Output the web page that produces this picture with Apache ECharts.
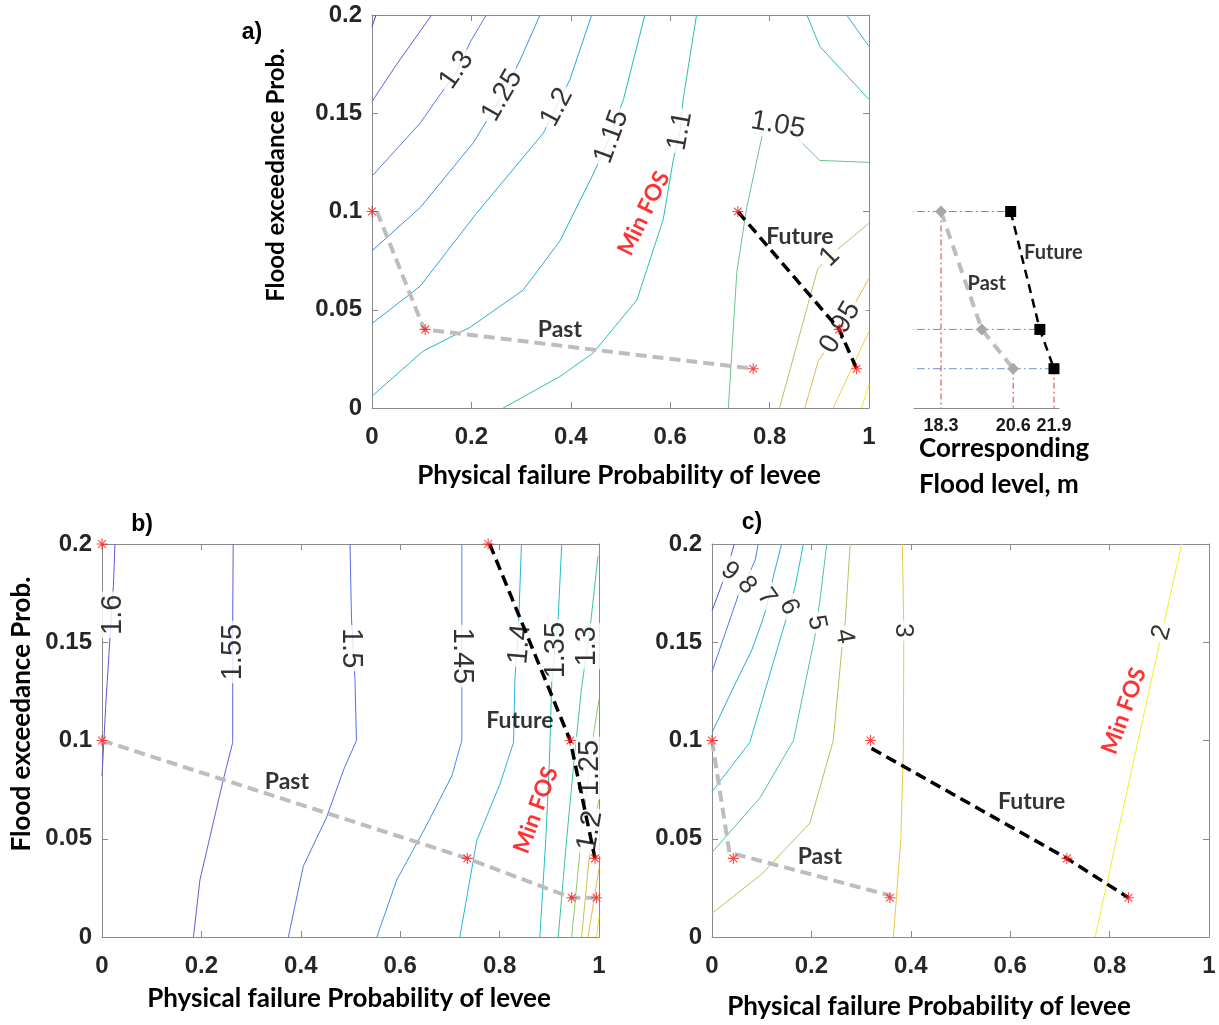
<!DOCTYPE html>
<html><head><meta charset="utf-8">
<script src="https://cdn.jsdelivr.net/npm/echarts@6/dist/echarts.min.js"></script>
<style>html,body{margin:0;padding:0;background:#fff}#c{width:1219px;height:1025px}</style>
</head><body><div id="c"></div><script>
// ---------- tick values ----------
const probTicksX = [0, 0.2, 0.4, 0.6, 0.8, 1];
const probTicksY = [0, 0.05, 0.1, 0.15, 0.2];
const floodTicks = [18.3, 20.6, 21.9];

// ---------- panel a) contours ----------
const cA140 = [[0,0.194],[0.008,0.2]];
const cA135 = [[0,0.156],[0.05,0.175],[0.12,0.2]];
const cA130 = [[0,0.118],[0.097,0.145],[0.133,0.158],[0.17,0.171],[0.197,0.186],[0.23,0.2]];
const cA125 = [[0,0.08],[0.097,0.102],[0.204,0.135],[0.264,0.16],[0.298,0.177],[0.338,0.2]];
const cA120 = [[0,0.043],[0.097,0.062],[0.21,0.099],[0.345,0.14],[0.37,0.153],[0.398,0.167],[0.442,0.2]];
const cA115 = [[0,0.006],[0.103,0.029],[0.197,0.041],[0.304,0.06],[0.378,0.085],[0.445,0.119],[0.479,0.138],[0.506,0.157],[0.549,0.2]];
const cA110 = [[0.264,0],[0.378,0.016],[0.445,0.028],[0.533,0.055],[0.586,0.096],[0.606,0.126],[0.62,0.141],[0.626,0.157],[0.653,0.2]];
const cA105 = [[0.717,0],[0.734,0.069],[0.754,0.102],[0.787,0.141],[0.82,0.145],[0.861,0.136],[0.901,0.126],[1,0.125]];
const cA110b = [[0.875,0.2],[0.901,0.184],[1,0.157]];
const cA115b = [[0.955,0.2],[1,0.184]];
const cA100 = [[0.82,0],[0.897,0.071],[0.918,0.076],[0.938,0.081],[1,0.094]];
const cA095 = [[0.871,0],[0.898,0.024],[0.942,0.04],[0.978,0.056],[1,0.066]];
const cA090 = [[0.928,0],[1,0.039]];
const cA085 = [[0.985,0],[1,0.012]];
const contoursA = [[1.4,cA140],[1.35,cA135],[1.3,cA130],[1.25,cA125],[1.2,cA120],[1.15,cA115],[1.1,cA110],[1.05,cA105],[1.1,cA110b],[1.15,cA115b],[1.0,cA100],[0.95,cA095],[0.9,cA090],[0.85,cA085]];
const labelsA = [['1.3',0.17,0.172],['1.25',0.262,0.159],['1.2',0.372,0.153],['1.15',0.482,0.138],['1.1',0.62,0.141],['1.05',0.817,0.144],['1',0.921,0.077],['0.95',0.942,0.041]];
const pastA = [[0.01,0.1],[0.105,0.04],[0.767,0.02]];
const futureA = [[0.736,0.1],[0.94,0.04],[0.975,0.02]];
const starsA = [[0,0.1],[0.107,0.04],[0.767,0.02],[0.736,0.1],[0.94,0.04],[0.975,0.02]];
const notesA = [['Past',0.378,0.04],['Future',0.861,0.087],['Min FOS',0.547,0.099]];

// ---------- side panel: corresponding flood level ----------
const floodPast = [[18.3,0.1],[19.6,0.04],[20.6,0.02]];
const floodFuture = [[20.52,0.1],[21.45,0.04],[21.9,0.02]];
const plotAEdge = 16.0;   // flood-level value at the right edge of panel a)
const notesSide = [['Future',21.88,0.079],['Past',19.76,0.0635]];

// ---------- panel b) contours ----------
const cB160 = [[0.026,0.2],[0.023,0.179],[0.019,0.164],[0.015,0.148],[0.008,0.12],[0,0.082]];
const cB155 = [[0.264,0.2],[0.263,0.164],[0.263,0.125],[0.263,0.099],[0.244,0.08],[0.197,0.029],[0.184,0]];
const cB150 = [[0.499,0.2],[0.502,0.162],[0.509,0.131],[0.512,0.1],[0.486,0.085],[0.452,0.061],[0.405,0.036],[0.375,0]];
const cB145 = [[0.724,0.2],[0.724,0.162],[0.724,0.124],[0.724,0.1],[0.704,0.082],[0.647,0.054],[0.593,0.029],[0.553,0]];
const cB140 = [[0.844,0.2],[0.838,0.158],[0.831,0.132],[0.828,0.099],[0.801,0.078],[0.754,0.049],[0.72,0]];
const cB135 = [[0.925,0.2],[0.918,0.163],[0.905,0.13],[0.9,0.088],[0.893,0.05],[0.881,0]];
const cB130 = [[0.998,0.194],[0.982,0.157],[0.965,0.127],[0.95,0.09],[0.935,0.05],[0.918,0]];
const cB125 = [[1,0.121],[0.99,0.105],[0.982,0.087],[0.968,0.06],[0.945,0]];
const cB120 = [[1,0.07],[0.985,0.053],[0.965,0]];
const cB115 = [[1,0.035],[0.978,0]];
const cB110 = [[1,0.01],[0.995,0]];
const contoursB = [[1.6,cB160],[1.55,cB155],[1.5,cB150],[1.45,cB145],[1.4,cB140],[1.35,cB135],[1.3,cB130],[1.25,cB125],[1.2,cB120],[1.15,cB115],[1.1,cB110]];
const labelsB = [['1.6',0.023,0.164],['1.55',0.264,0.145],['1.5',0.502,0.147],['1.45',0.724,0.143],['1.4',0.841,0.149],['1.35',0.914,0.146],['1.3',0.975,0.148],['1.25',0.982,0.086],['1.2',0.982,0.054]];
const pastB = [[0,0.1],[0.735,0.04],[0.945,0.02],[0.995,0.02]];
const futureB = [[0.78,0.2],[0.942,0.1],[0.992,0.04]];
const starsB = [[0,0.2],[0,0.1],[0.735,0.04],[0.945,0.02],[0.995,0.02],[0.777,0.2],[0.942,0.1],[0.992,0.04]];
const notesB = [['Past',0.372,0.079],['Future',0.841,0.11],['Min FOS',0.873,0.0646]];

// ---------- panel c) contours ----------
const cC9 = [[0,0.166],[0.025,0.183],[0.045,0.2]];
const cC8 = [[0,0.135],[0.053,0.174],[0.07,0.182],[0.087,0.192],[0.093,0.2]];
const cC7 = [[0,0.104],[0.045,0.128],[0.08,0.146],[0.1,0.16],[0.11,0.168],[0.123,0.183],[0.14,0.2]];
const cC6 = [[0,0.074],[0.076,0.099],[0.147,0.16],[0.157,0.169],[0.167,0.178],[0.184,0.2]];
const cC5 = [[0,0.043],[0.097,0.071],[0.164,0.1],[0.207,0.153],[0.217,0.171],[0.231,0.2]];
const cC4 = [[0,0.012],[0.1,0.032],[0.197,0.058],[0.244,0.1],[0.261,0.146],[0.268,0.16],[0.278,0.2]];
const cC3 = [[0.365,0],[0.38,0.05],[0.385,0.095],[0.386,0.156],[0.383,0.2]];
const cC2 = [[0.771,0],[0.84,0.08],[0.9,0.149],[0.945,0.2]];
const contoursC = [[9,cC9],[8,cC8],[7,cC7],[6,cC6],[5,cC5],[4,cC4],[3,cC3],[2,cC2]];
const labelsC = [['9',0.036,0.186],['8',0.07,0.179],['7',0.11,0.173],['6',0.155,0.168],['5',0.211,0.16],['4',0.266,0.153],['3',0.385,0.156],['2',0.905,0.155]];
const pastC = [[0,0.1],[0.035,0.043],[0.36,0.021]];
const futureC = [[0.321,0.096],[0.714,0.04],[0.838,0.02]];
const starsC = [[0,0.1],[0.043,0.04],[0.358,0.02],[0.319,0.1],[0.714,0.04],[0.838,0.02]];
const notesC = [['Past',0.217,0.041],['Future',0.643,0.069],['Min FOS',0.829,0.115]];

// ---------- styles (not data) ----------
const colA = {1.4:'#4b3fc4',1.35:'#5b5de0',1.3:'#5a78e2',1.25:'#3c8fe2',1.2:'#2aa6df',1.15:'#22b6c8',1.1:'#2cbfae',1.05:'#6cc38a',1.0:'#b2c46a',0.95:'#e8b84e',0.9:'#f2d13a',0.85:'#f5e830'};
const colB = {1.6:'#5e58d8',1.55:'#5c60e0',1.5:'#5470e6',1.45:'#3f90e8',1.4:'#2cb0e0',1.35:'#20bfc4',1.3:'#3cc6a0',1.25:'#90c870',1.2:'#c8c058',1.15:'#eeb848',1.1:'#f6d638'};
const colC = {9:'#4f58d8',8:'#4a7ee8',7:'#2ea4e0',6:'#1ec0cc',5:'#48c890',4:'#b8c258',3:'#ecc848',2:'#f2ee2a'};
const rotA = [55,60,62,70,80,-10,45,60];
const rotB = [90,90,-90,-90,85,90,90,90,80];
const rotC = [-40,-50,-55,-65,-78,-80,-90,75];
const noteRotA = [0,0,64], noteRotB = [0,0,70], noteRotC = [0,0,70];

const AX = '#8a8a8a';
const TICKFONT = {fontFamily:'Liberation Sans', fontWeight:'bold', fontSize:24, color:'#262626'};
const STAR = 'path://M9,0h2v20h-2z M0,9h20v2h-20z M2.2,3.6l1.4,-1.4l14.2,14.2l-1.4,1.4z M16.4,2.2l1.4,1.4l-14.2,14.2l-1.4,-1.4z';

function xAxesFor(g){
  return [
    {gridIndex:g, type:'value', min:0, max:1, interval:0.2, position:'bottom',
     axisLine:{show:true, onZero:false, lineStyle:{color:AX}}, axisTick:{show:true, inside:true, length:6, lineStyle:{color:AX}},
     splitLine:{show:false}, axisLabel:Object.assign({margin:17}, TICKFONT)},
    {gridIndex:g, type:'value', min:0, max:1, interval:0.2, position:'top',
     axisLine:{show:true, onZero:false, lineStyle:{color:AX}}, axisTick:{show:true, inside:true, length:6, lineStyle:{color:AX}},
     splitLine:{show:false}, axisLabel:{show:false}}
  ];
}
function yAxesFor(g){
  return [
    {gridIndex:g, type:'value', min:0, max:0.2, interval:0.05, position:'left',
     axisLine:{show:true, onZero:false, lineStyle:{color:AX}}, axisTick:{show:true, inside:true, length:6, lineStyle:{color:AX}},
     splitLine:{show:false}, axisLabel:Object.assign({margin:10}, TICKFONT)},
    {gridIndex:g, type:'value', min:0, max:0.2, interval:0.05, position:'right',
     axisLine:{show:true, onZero:false, lineStyle:{color:AX}}, axisTick:{show:true, inside:true, length:6, lineStyle:{color:AX}},
     splitLine:{show:false}, axisLabel:{show:false}}
  ];
}

const series = [];
function addPanel(contours, cols, labels, rots, past, future, stars, notes, noteRots, xi, yi, labSize){
  contours.forEach(c => series.push({type:'line', xAxisIndex:xi, yAxisIndex:yi, data:c[1], symbol:'none',
    lineStyle:{color:cols[c[0]], width:1}, silent:true, z:2, animation:false}));
  series.push({type:'scatter', xAxisIndex:xi, yAxisIndex:yi, symbolSize:1, itemStyle:{color:'rgba(0,0,0,0)'}, z:3, silent:true, animation:false,
    data: labels.map((l,i)=>({name:l[0], value:[l[1],l[2]], label:{rotate:rots[i], fontSize:labSize}})),
    label:{show:true, position:'inside', formatter:'{b}', color:'#000', fontSize:labSize, fontFamily:'Liberation Sans',
      backgroundColor:'#fff', padding:[0,3], lineHeight:labSize, align:'center', verticalAlign:'middle'}});
  series.push({type:'line', xAxisIndex:xi, yAxisIndex:yi, data:past, symbol:'none', silent:true, z:4, animation:false,
    lineStyle:{color:'#bdbdbd', width:4, type:[11,6]}});
  series.push({type:'line', xAxisIndex:xi, yAxisIndex:yi, data:future, symbol:'none', silent:true, z:4, animation:false,
    lineStyle:{color:'#000', width:3.5, type:[11,6]}});
  series.push({type:'scatter', xAxisIndex:xi, yAxisIndex:yi, data:stars, symbol:STAR, symbolSize:11, silent:true, z:5, animation:false,
    itemStyle:{color:'#ff1a1a'}});
  series.push({type:'scatter', xAxisIndex:xi, yAxisIndex:yi, symbolSize:1, itemStyle:{color:'rgba(0,0,0,0)'}, z:6, silent:true, animation:false,
    data: notes.map((n,i)=>({name:n[0], value:[n[1],n[2]], label:{rotate:noteRots[i], color: n[0]==='Min FOS' ? '#ff0000' : '#000'}})),
    label:{show:true, position:'inside', formatter:'{b}', fontSize:23, fontWeight:'bold', fontFamily:'Lato', align:'center', verticalAlign:'middle'}});
}

addPanel(contoursA, colA, labelsA, rotA, pastA, futureA, starsA, notesA, noteRotA, 0, 0, 28);
addPanel(contoursB, colB, labelsB, rotB, pastB, futureB, starsB, notesB, noteRotB, 3, 3, 29);
addPanel(contoursC, colC, labelsC, rotC, pastC, futureC, starsC, notesC, noteRotC, 5, 5, 26);

// side panel guides
floodFuture.forEach(p => series.push({type:'line', xAxisIndex:2, yAxisIndex:2, clip:false, symbol:'none', silent:true, z:2, animation:false,
  data:[[plotAEdge,p[1]],[p[0],p[1]]], lineStyle:{color:'#7391cf', width:1, type:[8,3,2,3]}}));
[floodPast[0], floodPast[2], floodFuture[2]].forEach(p => series.push({type:'line', xAxisIndex:2, yAxisIndex:2, clip:false, symbol:'none', silent:true, z:2, animation:false,
  data:[[p[0],p[1]],[p[0],0]], lineStyle:{color:'#d83a3a', width:1, type:[6,3,2,3]}}));
series.push({type:'line', xAxisIndex:2, yAxisIndex:2, data:floodPast, symbol:'diamond', symbolSize:12, silent:true, z:4, animation:false,
  itemStyle:{color:'#a8a8a8'}, lineStyle:{color:'#bdbdbd', width:4, type:[11,7]}});
series.push({type:'line', xAxisIndex:2, yAxisIndex:2, data:floodFuture, symbol:'rect', symbolSize:11, silent:true, z:4, animation:false,
  itemStyle:{color:'#000'}, lineStyle:{color:'#000', width:2.5, type:[9,6]}});
series.push({type:'scatter', xAxisIndex:2, yAxisIndex:2, symbolSize:1, itemStyle:{color:'rgba(0,0,0,0)'}, z:6, silent:true, animation:false,
  data: notesSide.map(n=>({name:n[0], value:[n[1],n[2]]})),
  label:{show:true, position:'inside', formatter:'{b}', fontSize:20, fontWeight:'bold', fontFamily:'Lato', color:'#000', align:'center', verticalAlign:'middle'}});

const ax = xAxesFor(0), ay = yAxesFor(0), bx = xAxesFor(2), by = yAxesFor(2), cx = xAxesFor(3), cy = yAxesFor(3);
const sideX = {gridIndex:1, type:'value', min:17.44, max:22.06, axisLine:{show:true, onZero:false, lineStyle:{color:AX}}, axisTick:{show:false},
  splitLine:{show:false}, axisLabel:{show:true, customValues:floodTicks, margin:9, fontFamily:'Liberation Sans', fontWeight:'bold', fontSize:18, color:'#1a1a1a'}};
const sideY = {gridIndex:1, type:'value', min:0, max:0.2, show:false};

function txt(text, x, y, size, rot, align){
  return {type:'text', x:x, y:y, rotation:rot||0, silent:true,
    style:{text:text, font:'bold '+size+'px Lato', fill:'#000', textAlign:align||'center', textVerticalAlign:'middle', align:align||'center', verticalAlign:'middle'}};
}

const option = {
  animation:false,
  backgroundColor:'#fff',
  grid:[
    {left:372, top:15, width:497, height:393},
    {left:914, top:15, width:145, height:393},
    {left:102, top:544, width:497, height:393},
    {left:712, top:544, width:497, height:393}
  ],
  xAxis:[ax[0], ax[1], sideX, bx[0], bx[1], cx[0], cx[1]],
  yAxis:[ay[0], ay[1], sideY, by[0], by[1], cy[0], cy[1]],
  series:series,
  graphic:[
    {type:'text', x:252, y:33, silent:true, style:{text:'a)', font:'bold 23px Liberation Sans', fill:'#000', textAlign:'center', textVerticalAlign:'middle', align:'center', verticalAlign:'middle'}},
    {type:'text', x:142, y:525, silent:true, style:{text:'b)', font:'bold 23px Liberation Sans', fill:'#000', textAlign:'center', textVerticalAlign:'middle', align:'center', verticalAlign:'middle'}},
    {type:'text', x:752, y:523, silent:true, style:{text:'c)', font:'bold 23px Liberation Sans', fill:'#000', textAlign:'center', textVerticalAlign:'middle', align:'center', verticalAlign:'middle'}},
    txt('Physical failure Probability of levee', 619, 476, 26),
    txt('Physical failure Probability of levee', 349, 999, 26),
    txt('Physical failure Probability of levee', 929, 1007, 26),
    txt('Flood exceedance Prob.', 276, 175, 24, Math.PI/2),
    txt('Flood exceedance Prob.', 22, 714, 26, Math.PI/2),
    txt('Corresponding', 919, 449, 26, 0, 'left'),
    txt('Flood level, m', 919, 485, 26, 0, 'left')
  ]
};
echarts.init(document.getElementById('c'), null, {renderer:'canvas'}).setOption(option);
</script></body></html>
